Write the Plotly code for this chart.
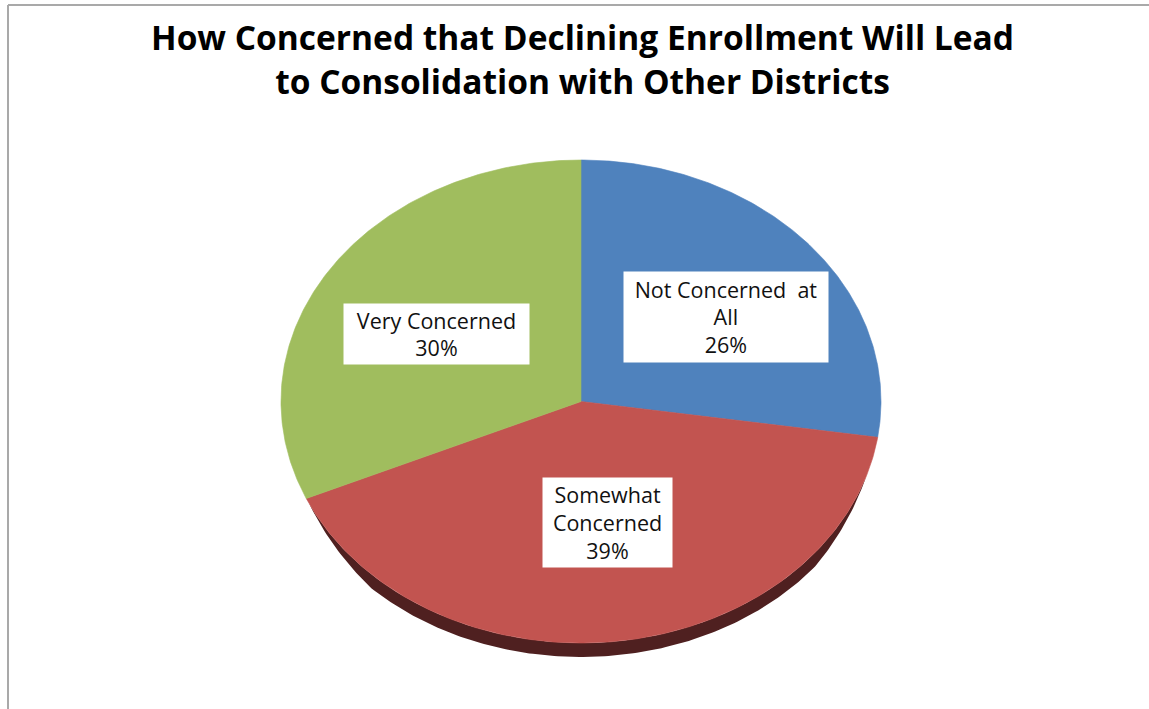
import numpy as np
import plotly.graph_objects as go

# Survey responses (percent of respondents)
categories = ["Not Concerned at All", "Somewhat Concerned", "Very Concerned"]
display_names = ["Not Concerned  at<br>All", "Somewhat<br>Concerned", "Very Concerned"]
percents = [26, 39, 30]
colors = ["#4f82bd", "#c25450", "#a0bd5e"]
rim_colors = ["#2b4a6e", "#4f2020", "#5a6d33"]

title_lines = ["How Concerned that Declining Enrollment Will Lead",
               "to Consolidation with Other Districts"]

W, H = 1149, 709
cx, cy = 581, 401.5      # centre of the tilted pie (pixel-like axis units)
rx, ry = 300, 241.5      # ellipse radii of the top face
depth = 14               # thickness of the pie edge

# label box placement, as fractions of the ellipse radii from the centre
label_pos = [(0.483, 0.350), (0.088, -0.502), (-0.483, 0.280)]
label_box = [(198, 84), (123, 83), (179, 54)]

fig = go.Figure()

vals = np.array(percents, dtype=float)
fracs = vals / vals.sum()
ends = 90 - 360 * np.cumsum(fracs)
starts = np.concatenate([[90], ends[:-1]])


def arc(t0, t1, dy=0.0, n=200):
    t = np.radians(np.linspace(t0, t1, n))
    return cx + rx * np.cos(t), cy - ry * np.sin(t) + dy


# visible front edge (lower part of the ellipse)
front_lo, front_hi = -155, -18
for s, e, rc in zip(starts, ends, rim_colors):
    for shift in (0, -360, 360):
        lo = max(e + shift, front_lo)
        hi = min(s + shift, front_hi)
        if hi > lo:
            xt, yt = arc(hi, lo)
            xb, yb = arc(lo, hi, dy=depth)
            # taper the edge towards both ends
            t = np.linspace(0, 1, len(xb))
            yb = yt[::-1] + (yb - yt[::-1]) * np.clip(np.sin(np.pi * t) * 2.2, 0, 1)
            fig.add_trace(go.Scatter(
                x=np.concatenate([xt, xb]), y=np.concatenate([yt, yb]),
                fill="toself", fillcolor=rc, mode="lines",
                line=dict(width=0, color=rc), hoverinfo="skip", showlegend=False))

# top faces of the slices
for name, s, e, c in zip(categories, starts, ends, colors):
    xa, ya = arc(s, e)
    fig.add_trace(go.Scatter(
        x=np.concatenate([[cx], xa, [cx]]), y=np.concatenate([[cy], ya, [cy]]),
        fill="toself", fillcolor=c, mode="lines", line=dict(width=0.6, color=c),
        name=name, hoverinfo="name", showlegend=False))

# data labels
for disp, p, (fx, fy), (bw, bh) in zip(display_names, percents, label_pos, label_box):
    fig.add_annotation(
        x=cx + fx * rx, y=cy - fy * ry,
        xref="x", yref="y", showarrow=False,
        text=f"{disp}<br>{p}%", align="center", valign="middle",
        width=bw, height=bh,
        font=dict(family="Open Sans", size=21.5, color="#111111"),
        bgcolor="white", borderpad=3)

# chart title
fig.add_annotation(
    x=582, y=59, xref="x", yref="y", showarrow=False,
    text="<br>".join(f"<b>{t}</b>" for t in title_lines),
    font=dict(family="Open Sans", size=33.5, color="black"), align="center")

# chart-area frame
fig.add_shape(type="line", x0=8, x1=W, y0=5, y1=5, xref="x", yref="y",
              line=dict(color="#a9a9a9", width=2))
fig.add_shape(type="line", x0=8, x1=8, y0=5, y1=H, xref="x", yref="y",
              line=dict(color="#a9a9a9", width=2))

fig.update_layout(
    width=W, height=H, autosize=False,
    margin=dict(l=0, r=0, t=0, b=0),
    paper_bgcolor="white", plot_bgcolor="white",
    xaxis=dict(range=[0, W], visible=False, fixedrange=True),
    yaxis=dict(range=[H, 0], visible=False, fixedrange=True),
)

fig.write_html("out.html")
